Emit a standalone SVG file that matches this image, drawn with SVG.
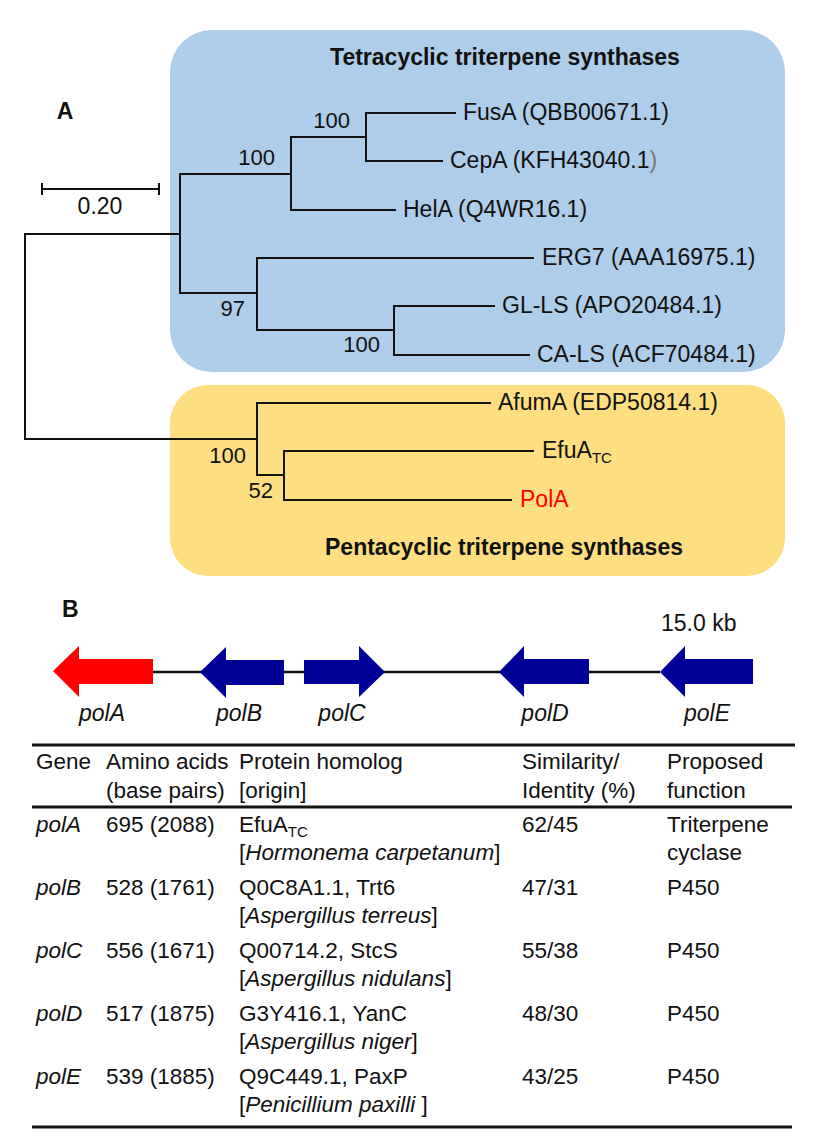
<svg xmlns="http://www.w3.org/2000/svg" width="829" height="1145" viewBox="0 0 829 1145">
<style>
text{font-family:"Liberation Sans",Arial,sans-serif;fill:#111;}
.lbl{font-size:23px;}
.bs{font-size:22px;}
.hd{font-size:23px;font-weight:bold;}
.tb{font-size:22.5px;}
.it{font-style:italic;}
.sub{font-size:15px;}
.br{fill:none;stroke:#111;stroke-width:2;stroke-linecap:square;}
.rule{stroke:#111;stroke-width:3;}
.gb{fill:#000099;}
.gr{fill:#ff0000;}
</style>
<rect width="829" height="1145" fill="#ffffff"/>

<g id="box-tetra">
<rect x="170" y="30" width="615" height="342" rx="42" fill="#aecdea"/>
<text class="hd" x="505" y="65" text-anchor="middle">Tetracyclic triterpene synthases</text>
</g>
<g id="box-penta">
<rect x="170" y="385" width="615" height="191" rx="38" fill="#fddf82"/>
<text class="hd" x="504" y="555" text-anchor="middle">Pentacyclic triterpene synthases</text>
</g>

<text id="label-A" class="hd" x="65" y="119" text-anchor="middle">A</text>

<g id="scale-bar">
<path class="br" d="M42,189 H159 M42,184 V194 M159,184 V194" stroke-linecap="butt"/>
<text class="lbl" x="100" y="214" text-anchor="middle">0.20</text>
</g>

<g id="connectors">
<path class="br" d="M180,234 H25 V439 H257"/>
<path class="br" d="M180,174 V293"/>
<path class="br" d="M180,174 H291 M291,137 V210"/>
<path class="br" d="M291,137 H366 M366,113 V161"/>
<path class="br" d="M366,113 H455 M366,161 H442 M291,210 H395"/>
<path class="br" d="M180,293 H257 M257,258 V330"/>
<path class="br" d="M257,258 H533 M257,330 H394 M394,306 V355"/>
<path class="br" d="M394,306 H494 M394,355 H529"/>
<path class="br" d="M257,403 V475 M257,403 H490 M257,475 H284 M284,451 V500"/>
<path class="br" d="M284,451 H533 M284,500 H511"/>
</g>

<g id="bootstrap">
<text class="bs" x="350" y="128" text-anchor="end">100</text>
<text class="bs" x="275" y="165" text-anchor="end">100</text>
<text class="bs" x="245" y="316" text-anchor="end">97</text>
<text class="bs" x="380" y="352" text-anchor="end">100</text>
<text class="bs" x="246" y="463" text-anchor="end">100</text>
<text class="bs" x="273" y="498" text-anchor="end">52</text>
</g>

<g id="leaf-FusA"><text class="lbl" x="463" y="120">FusA (QBB00671.1)</text></g>
<g id="leaf-CepA"><text class="lbl" x="450" y="168">CepA (KFH43040.1<tspan fill="#777">)</tspan></text></g>
<g id="leaf-HelA"><text class="lbl" x="403" y="217">HelA (Q4WR16.1)</text></g>
<g id="leaf-ERG7"><text class="lbl" x="542" y="265">ERG7 (AAA16975.1)</text></g>
<g id="leaf-GL-LS"><text class="lbl" x="502" y="313">GL-LS (APO20484.1)</text></g>
<g id="leaf-CA-LS"><text class="lbl" x="537" y="362">CA-LS (ACF70484.1)</text></g>
<g id="leaf-AfumA"><text class="lbl" x="498" y="410">AfumA (EDP50814.1)</text></g>
<g id="leaf-EfuA"><text class="lbl" x="542" y="458">EfuA<tspan class="sub" dy="5">TC</tspan></text></g>
<g id="leaf-PolA"><text class="lbl" x="520" y="507" fill="#ff0000" style="fill:#ff0000">PolA</text></g>

<text id="label-B" class="hd" x="62" y="617">B</text>
<text id="scale-kb" class="lbl" x="661" y="631">15.0 kb</text>

<g id="backbone">
<line x1="153" y1="672" x2="660" y2="672" stroke="#111" stroke-width="2.5"/>
</g>
<g id="gene-polA">
<path class="gr" d="M53,671 L79,646 L79,659 L153,659 L153,684 L79,684 L79,697 Z"/>
<text class="lbl it" x="102" y="721" text-anchor="middle">polA</text>
</g>
<g id="gene-polB">
<path class="gb" d="M200,672 L226,647 L226,660 L284,660 L284,685 L226,685 L226,698 Z"/>
<text class="lbl it" x="239" y="721" text-anchor="middle">polB</text>
</g>
<g id="gene-polC">
<path class="gb" d="M304,660 L359,660 L359,646 L385,672 L359,697 L359,684 L304,684 Z"/>
<text class="lbl it" x="342" y="721" text-anchor="middle">polC</text>
</g>
<g id="gene-polD">
<path class="gb" d="M499,672 L524,646 L524,659 L589,659 L589,684 L524,684 L524,697 Z"/>
<text class="lbl it" x="545" y="721" text-anchor="middle">polD</text>
</g>
<g id="gene-polE">
<path class="gb" d="M660,672 L685,646 L685,659 L753,659 L753,684 L685,684 L685,697 Z"/>
<text class="lbl it" x="707" y="721" text-anchor="middle">polE</text>
</g>

<g id="table">
<line class="rule" x1="32" y1="745" x2="795" y2="745"/>
<line class="rule" x1="32" y1="807" x2="792" y2="807"/>
<line class="rule" x1="32" y1="1127" x2="792" y2="1127"/>
<g id="header">
<text class="tb" x="36" y="769">Gene</text>
<text class="tb" x="106" y="769">Amino acids</text>
<text class="tb" x="106" y="798">(base pairs)</text>
<text class="tb" x="239" y="769">Protein homolog</text>
<text class="tb" x="239" y="798">[origin]</text>
<text class="tb" x="522" y="769">Similarity/</text>
<text class="tb" x="522" y="798">Identity (%)</text>
<text class="tb" x="667" y="769">Proposed</text>
<text class="tb" x="667" y="798">function</text>
</g>
<g id="row-polA">
<text class="tb it" x="36" y="832">polA</text>
<text class="tb" x="106" y="832">695 (2088)</text>
<text class="tb" x="239" y="832">EfuA<tspan class="sub" dy="5">TC</tspan></text>
<text class="tb" x="239" y="860">[<tspan class="it">Hormonema carpetanum</tspan>]</text>
<text class="tb" x="522" y="832">62/45</text>
<text class="tb" x="667" y="832">Triterpene</text>
<text class="tb" x="667" y="860">cyclase</text>
</g>
<g id="row-polB">
<text class="tb it" x="36" y="895">polB</text>
<text class="tb" x="106" y="895">528 (1761)</text>
<text class="tb" x="239" y="895">Q0C8A1.1, Trt6</text>
<text class="tb" x="239" y="923">[<tspan class="it">Aspergillus terreus</tspan>]</text>
<text class="tb" x="522" y="895">47/31</text>
<text class="tb" x="667" y="895">P450</text>
</g>
<g id="row-polC">
<text class="tb it" x="36" y="958">polC</text>
<text class="tb" x="106" y="958">556 (1671)</text>
<text class="tb" x="239" y="958">Q00714.2, StcS</text>
<text class="tb" x="239" y="986">[<tspan class="it">Aspergillus nidulans</tspan>]</text>
<text class="tb" x="522" y="958">55/38</text>
<text class="tb" x="667" y="958">P450</text>
</g>
<g id="row-polD">
<text class="tb it" x="36" y="1021">polD</text>
<text class="tb" x="106" y="1021">517 (1875)</text>
<text class="tb" x="239" y="1021">G3Y416.1, YanC</text>
<text class="tb" x="239" y="1049">[<tspan class="it">Aspergillus niger</tspan>]</text>
<text class="tb" x="522" y="1021">48/30</text>
<text class="tb" x="667" y="1021">P450</text>
</g>
<g id="row-polE">
<text class="tb it" x="36" y="1084">polE</text>
<text class="tb" x="106" y="1084">539 (1885)</text>
<text class="tb" x="239" y="1084">Q9C449.1, PaxP</text>
<text class="tb" x="239" y="1112">[<tspan class="it">Penicillium paxilli </tspan>]</text>
<text class="tb" x="522" y="1084">43/25</text>
<text class="tb" x="667" y="1084">P450</text>
</g>
</g>
</svg>
